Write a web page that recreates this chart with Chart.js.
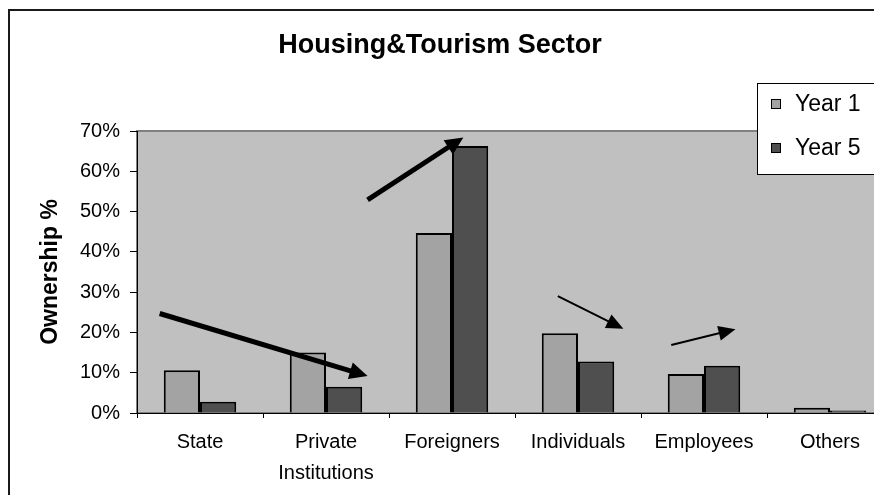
<!DOCTYPE html>
<html>
<head>
<meta charset="utf-8">
<title>Housing&amp;Tourism Sector</title>
<script src="https://cdn.jsdelivr.net/npm/chart.js@4.4.1/dist/chart.umd.min.js"></script>
<style>
html, body { margin: 0; padding: 0; background: #fff; overflow: hidden; }
#wrap { position: relative; width: 900px; height: 495px; }
</style>
</head>
<body>
<div id="wrap"><canvas id="ownershipChart" width="900" height="495"></canvas></div>
<script>
// data (%)
const categories = ['State', ['Private', 'Institutions'], 'Foreigners', 'Individuals', 'Employees', 'Others'];
const seriesNames = ['Year 1', 'Year 5'];
const year1Values = [10.6, 15.0, 44.7, 19.8, 9.7, 1.3];
const year5Values = [2.8, 6.5, 66.3, 12.8, 11.7, 0.6];
const yMin = 0, yMax = 70, yStep = 10;

// trend arrows, in (category index, %) units
const trendArrows = [
    { from: [-0.32, 24.7], to: [1.33, 9.2], bold: true },
    { from: [1.33, 52.9], to: [2.09, 68.4], bold: true },
    { from: [2.84, 29.0], to: [3.36, 20.9], bold: false },
    { from: [3.74, 16.9], to: [4.25, 20.8], bold: false }
];

const FONT = "'Liberation Sans', Arial, sans-serif";
const barColors = ['#a3a3a3', '#4f4f4f'];

// background, frame, plot area and title
const framePlugin = {
    id: 'frame',
    beforeDraw(chart) {
        const ctx = chart.ctx;
        const a = chart.chartArea;
        ctx.save();
        ctx.fillStyle = '#fff';
        ctx.fillRect(0, 0, chart.width, chart.height);
        ctx.strokeStyle = '#1a1a1a';
        ctx.lineWidth = 2;
        ctx.strokeRect(9, 10, chart.width + 20, chart.height + 20);
        ctx.fillStyle = '#c0c0c0';
        ctx.fillRect(a.left, a.top, a.right - a.left, a.bottom - a.top);
        ctx.strokeStyle = '#808080';
        ctx.lineWidth = 2;
        ctx.strokeRect(a.left, a.top, a.right - a.left, a.bottom - a.top);
        ctx.fillStyle = '#000';
        ctx.font = 'bold 27px ' + FONT;
        ctx.textAlign = 'center';
        ctx.textBaseline = 'middle';
        ctx.fillText('Housing&Tourism Sector', 440, 46);
        ctx.restore();
    }
};

const arrowPlugin = {
    id: 'arrows',
    afterDatasetsDraw(chart) {
        const ctx = chart.ctx;
        const xs = chart.scales.x, ys = chart.scales.y;
        ctx.save();
        ctx.fillStyle = '#000';
        ctx.strokeStyle = '#000';
        trendArrows.forEach(arr => {
            const x1 = xs.getPixelForValue(arr.from[0]), y1 = ys.getPixelForValue(arr.from[1]);
            const x2 = xs.getPixelForValue(arr.to[0]), y2 = ys.getPixelForValue(arr.to[1]);
            const ang = Math.atan2(y2 - y1, x2 - x1);
            const headLen = arr.bold ? 18 : 17, headHalf = arr.bold ? 8.5 : 7.5;
            const bx = x2 - headLen * Math.cos(ang), by = y2 - headLen * Math.sin(ang);
            ctx.lineWidth = arr.bold ? 5 : 2;
            ctx.beginPath();
            ctx.moveTo(x1, y1);
            ctx.lineTo(bx + Math.cos(ang), by + Math.sin(ang));
            ctx.stroke();
            ctx.beginPath();
            ctx.moveTo(x2, y2);
            ctx.lineTo(bx + headHalf * Math.sin(ang), by - headHalf * Math.cos(ang));
            ctx.lineTo(bx - headHalf * Math.sin(ang), by + headHalf * Math.cos(ang));
            ctx.closePath();
            ctx.fill();
        });
        ctx.restore();
    }
};

// legend box sitting over the top right corner of the plot
const legendBoxPlugin = {
    id: 'legendBox',
    afterDraw(chart) {
        const ctx = chart.ctx;
        ctx.save();
        ctx.fillStyle = '#fff';
        ctx.fillRect(757, 83, 200, 91);
        ctx.strokeStyle = '#000';
        ctx.lineWidth = 1;
        ctx.strokeRect(757.5, 83.5, 200, 91);
        ctx.font = '23px ' + FONT;
        ctx.textAlign = 'left';
        ctx.textBaseline = 'middle';
        chart.data.datasets.forEach((ds, i) => {
            const cy = 104 + i * 44;
            ctx.fillStyle = ds.backgroundColor;
            ctx.fillRect(771, cy - 5, 10, 10);
            ctx.strokeStyle = '#000';
            ctx.strokeRect(771.5, cy - 4.5, 9, 9);
            ctx.fillStyle = '#000';
            ctx.fillText(ds.label, 795, cy + 1);
        });
        ctx.restore();
    }
};

const ctx = document.getElementById('ownershipChart').getContext('2d');
new Chart(ctx, {
    type: 'bar',
    data: {
        labels: categories,
        datasets: [
            { label: seriesNames[0], data: year1Values, backgroundColor: barColors[0], borderColor: '#000', borderWidth: 2 },
            { label: seriesNames[1], data: year5Values, backgroundColor: barColors[1], borderColor: '#000', borderWidth: 2 }
        ]
    },
    options: {
        responsive: false,
        animation: false,
        devicePixelRatio: 1,
        categoryPercentage: 0.575,
        barPercentage: 1,
        layout: { padding: { top: 131, right: 7, left: 0, bottom: 0 } },
        plugins: {
            legend: { display: false },
            title: { display: false },
            tooltip: { enabled: false }
        },
        scales: {
            x: {
                grid: { drawOnChartArea: false, drawTicks: true, tickLength: 5, color: '#000', offset: true },
                border: { display: true, color: '#000', width: 1 },
                ticks: { color: '#000', padding: 9, font: { family: FONT, size: 20, lineHeight: '31px' }, maxRotation: 0, autoSkip: false },
                afterFit(scale) { scale.height = 82; }
            },
            y: {
                min: yMin,
                max: yMax,
                grid: { drawOnChartArea: false, drawTicks: true, tickLength: 7, color: '#000' },
                border: { display: true, color: '#000', width: 1 },
                ticks: {
                    stepSize: yStep,
                    color: '#000',
                    padding: 10,
                    font: { family: FONT, size: 20 },
                    callback: v => v + '%'
                },
                title: {
                    display: true,
                    text: 'Ownership %',
                    color: '#000',
                    font: { family: FONT, size: 23, weight: 'bold', lineHeight: 1.2 },
                    padding: { top: 37, bottom: 0 }
                },
                afterFit(scale) { scale.width = 137; }
            }
        }
    },
    plugins: [framePlugin, arrowPlugin, legendBoxPlugin]
});
</script>
</body>
</html>
